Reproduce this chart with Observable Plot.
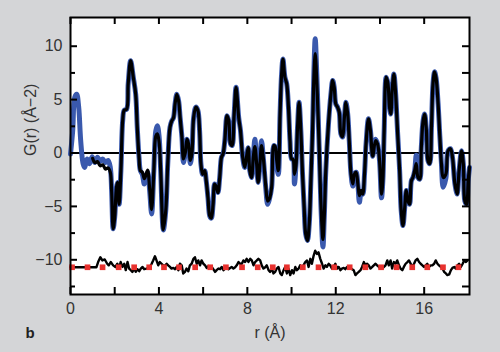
<!DOCTYPE html>
<html><head><meta charset="utf-8">
<script src="https://cdn.jsdelivr.net/npm/d3@7"></script>
<script src="https://cdn.jsdelivr.net/npm/@observablehq/plot@0.6"></script>
<style>html,body{margin:0;padding:0;background:#d4d5d7}</style>
</head><body><div id="chart"></div>
<script>
// Observed G(r) (blue)
const obsR = [0.00,0.10,0.19,0.28,0.37,0.46,0.57,0.64,0.75,0.86,0.98,1.10,1.22,1.34,1.46,1.58,1.70,1.80,1.86,1.93,2.00,2.08,2.13,2.20,2.28,2.36,2.43,2.54,2.61,2.72,2.84,2.95,3.02,3.10,3.16,3.25,3.34,3.42,3.49,3.58,3.67,3.77,3.86,3.93,4.01,4.08,4.20,4.31,4.40,4.50,4.58,4.66,4.73,4.81,4.89,4.96,5.04,5.11,5.19,5.27,5.34,5.42,5.49,5.57,5.67,5.76,5.84,5.90,5.98,6.07,6.14,6.22,6.30,6.37,6.45,6.52,6.60,6.67,6.75,6.83,6.90,6.98,7.08,7.16,7.24,7.31,7.40,7.49,7.61,7.69,7.79,7.88,7.96,8.04,8.11,8.19,8.27,8.34,8.42,8.49,8.57,8.64,8.72,8.83,8.92,9.00,9.10,9.20,9.26,9.33,9.40,9.48,9.55,9.61,9.70,9.78,9.86,9.93,10.00,10.07,10.13,10.20,10.27,10.34,10.42,10.49,10.57,10.64,10.72,10.80,10.87,10.95,11.01,11.07,11.14,11.25,11.33,11.42,11.48,11.55,11.67,11.78,11.86,11.93,12.00,12.08,12.16,12.23,12.31,12.39,12.46,12.54,12.61,12.69,12.77,12.84,12.92,13.00,13.07,13.15,13.22,13.30,13.37,13.48,13.57,13.67,13.80,13.89,13.98,14.07,14.13,14.19,14.28,14.36,14.43,14.49,14.55,14.63,14.70,14.80,14.89,14.96,15.04,15.12,15.19,15.27,15.34,15.42,15.49,15.57,15.64,15.72,15.80,15.87,15.95,16.02,16.10,16.17,16.25,16.33,16.40,16.47,16.54,16.63,16.71,16.78,16.86,16.98,17.08,17.19,17.28,17.39,17.49,17.58,17.69,17.77,17.84,17.92,17.99,18.05];
const obsG = [-0.1,2.1,5.2,5.5,4.3,1.2,-1.0,-1.35,-0.55,-1.0,-0.35,-0.9,-0.4,-0.8,-0.55,-0.9,-0.7,-1.35,-3.5,-7.1,-6.0,-3.2,-2.75,-4.8,-1.65,3.0,4.0,4.1,6.5,8.65,7.1,5.5,2.4,-0.4,-1.65,-2.0,-2.9,-2.3,-1.8,-3.5,-5.7,-1.65,2.1,2.56,1.5,-1.65,-7.2,-5.4,-1.0,2.4,3.0,3.3,4.6,5.5,4.9,3.3,1.5,-0.9,0.0,1.3,0.85,-1.0,-0.1,3.3,4.3,4.0,2.1,-1.0,-2.0,-1.65,-2.6,-4.2,-5.9,-6.1,-4.8,-2.9,-3.2,-3.7,-2.3,-0.4,-0.1,1.15,3.5,3.0,0.85,0.7,3.5,6.15,3.3,2.1,-0.4,-1.35,-0.4,0.5,-1.65,-2.3,-0.4,1.3,-1.0,-2.75,-1.0,1.15,-0.4,-3.2,-4.8,-4.3,-3.2,0.7,0.6,-1.2,-2.0,3.65,7.4,8.8,7.1,6.5,4.3,1.15,-0.55,-0.6,-2.9,-1.2,2.4,4.75,2.1,-1.65,-5.1,-7.6,-8.2,-6.65,-2.9,2.1,7.5,10.7,7.5,0.5,-5.0,-8.8,-6.0,-1.65,2.7,5.5,6.8,6.15,4.6,4.3,3.8,1.8,1.5,3.35,4.75,3.65,1.15,-2.0,-3.1,-2.0,-1.8,-2.9,-4.6,-3.7,-3.85,-2.0,0.85,3.2,2.1,-0.3,1.3,0.85,-0.7,-4.2,-2.6,2.1,7.1,6.5,4.3,3.65,5.85,7.4,5.85,1.8,-1.65,-5.4,-6.8,-5.1,-3.5,-4.5,-4.8,-2.6,-2.3,-1.65,-0.2,-2.3,-2.45,0.5,3.0,3.65,2.1,-0.7,-1.0,2.5,6.5,7.6,7.0,4.6,1.5,-1.0,-3.2,-2.4,0.2,0.4,-0.4,-2.9,-3.85,-1.65,0.2,-1.0,-4.5,-4.8,-2.6,-1.35];

// Calculated fit (black)
const calcR = [1.00,1.10,1.22,1.34,1.46,1.58,1.70,1.80,1.86,1.93,2.00,2.08,2.13,2.20,2.28,2.36,2.43,2.54,2.61,2.72,2.84,2.95,3.02,3.10,3.16,3.25,3.34,3.42,3.49,3.58,3.67,3.77,3.86,3.93,4.01,4.08,4.20,4.31,4.40,4.50,4.58,4.66,4.73,4.81,4.89,4.96,5.04,5.11,5.19,5.27,5.34,5.42,5.49,5.57,5.67,5.76,5.84,5.90,5.98,6.07,6.14,6.22,6.30,6.37,6.45,6.52,6.60,6.67,6.75,6.83,6.90,6.98,7.08,7.16,7.24,7.31,7.40,7.49,7.61,7.69,7.79,7.88,7.96,8.04,8.11,8.19,8.27,8.34,8.42,8.49,8.57,8.64,8.72,8.83,8.92,9.00,9.10,9.20,9.26,9.33,9.40,9.48,9.55,9.61,9.70,9.78,9.86,9.93,10.00,10.07,10.13,10.20,10.27,10.34,10.42,10.49,10.57,10.64,10.72,10.80,10.87,10.95,11.01,11.07,11.14,11.25,11.33,11.42,11.48,11.55,11.67,11.78,11.86,11.93,12.00,12.08,12.16,12.23,12.31,12.39,12.46,12.54,12.61,12.69,12.77,12.84,12.92,13.00,13.07,13.15,13.22,13.30,13.37,13.48,13.57,13.67,13.80,13.89,13.98,14.07,14.13,14.19,14.28,14.36,14.43,14.49,14.55,14.63,14.70,14.80,14.89,14.96,15.04,15.12,15.19,15.27,15.34,15.42,15.49,15.57,15.64,15.72,15.80,15.87,15.95,16.02,16.10,16.17,16.25,16.33,16.40,16.47,16.54,16.63,16.71,16.78,16.86,16.98,17.08,17.19,17.28,17.39,17.49,17.58,17.69,17.77,17.84,17.92,17.99,18.05];
const calcG = [-0.5,-0.9,-0.8,-1.2,-1.1,-1.5,-1.4,-1.8,-3.5,-7.1,-6.0,-3.2,-2.75,-4.8,-1.65,3.0,4.0,4.1,6.5,8.65,7.1,5.5,2.4,-0.4,-1.65,-1.8,-2.4,-2.0,-1.6,-3.3,-5.3,-1.65,1.6,1.8,1.0,-1.65,-7.2,-5.4,-1.0,2.4,3.0,3.3,4.6,5.5,4.9,3.3,1.5,-0.55,0.0,1.3,0.85,-0.7,-0.1,3.3,4.3,4.0,2.1,-1.0,-2.0,-1.65,-2.6,-4.2,-5.9,-6.1,-4.8,-2.9,-3.2,-3.7,-2.3,-0.4,-0.1,1.15,3.5,3.0,0.85,0.7,3.5,6.15,3.3,2.1,-0.4,-1.35,-0.4,0.5,-1.65,-2.3,-0.4,0.6,-1.0,-2.75,-1.0,0.7,-0.4,-3.0,-4.5,-4.3,-3.2,0.7,0.6,-0.7,-1.65,3.65,7.4,8.8,7.1,6.5,4.3,1.15,-0.55,-0.6,-2.0,-1.2,2.4,4.75,2.1,-1.65,-5.1,-7.6,-8.2,-6.65,-2.9,2.1,7.1,9.3,6.8,0.5,-4.8,-8.1,-6.0,-1.65,2.7,5.5,6.8,6.15,4.6,4.3,3.8,1.8,1.5,3.35,4.75,3.65,1.15,-2.0,-2.9,-2.0,-1.8,-2.9,-4.0,-3.5,-3.85,-2.0,0.85,3.2,2.1,-0.3,1.15,0.85,-0.7,-3.85,-2.6,2.1,7.1,6.5,4.3,3.65,5.85,7.4,5.85,1.8,-1.65,-5.4,-6.8,-5.1,-3.5,-4.5,-4.8,-2.6,-2.3,-1.65,-1.0,-2.3,-2.45,0.5,3.0,3.65,2.1,-0.7,-1.0,2.5,6.5,7.6,7.0,4.6,1.5,-1.0,-2.3,-2.0,0.2,0.4,-0.4,-2.9,-3.85,-1.65,0.2,-1.0,-4.5,-4.8,-2.6,-1.35];

// Difference curve (plotted offset below)
const diffR = [0.00,1.17,1.25,1.35,1.44,1.55,1.66,1.73,1.82,1.93,2.03,2.12,2.20,2.27,2.35,2.43,2.50,2.58,2.65,2.73,2.80,2.88,2.95,3.03,3.11,3.18,3.26,3.33,3.44,3.51,3.59,3.67,3.74,3.82,3.89,3.97,4.04,4.12,4.19,4.27,4.35,4.42,4.50,4.57,4.65,4.72,4.80,4.88,4.95,5.03,5.10,5.18,5.25,5.33,5.40,5.48,5.56,5.63,5.71,5.78,5.86,5.93,6.01,6.09,6.16,6.24,6.31,6.39,6.46,6.54,6.61,6.69,6.77,6.84,6.92,6.99,7.07,7.14,7.22,7.29,7.37,7.45,7.52,7.60,7.67,7.75,7.82,7.90,7.97,8.05,8.13,8.20,8.28,8.35,8.43,8.50,8.58,8.65,8.73,8.81,8.88,8.96,9.03,9.11,9.18,9.26,9.33,9.41,9.49,9.56,9.64,9.71,9.79,9.86,9.94,10.02,10.09,10.17,10.24,10.32,10.39,10.47,10.54,10.62,10.70,10.77,10.85,10.92,11.00,11.07,11.15,11.22,11.30,11.38,11.45,11.53,11.60,11.68,11.75,11.83,11.90,11.98,12.06,12.13,12.21,12.28,12.36,12.43,12.51,12.58,12.66,12.74,12.81,12.89,12.96,13.04,13.12,13.19,13.27,13.34,13.42,13.49,13.57,13.65,13.72,13.80,13.87,13.95,14.02,14.10,14.18,14.25,14.33,14.40,14.48,14.55,14.63,14.71,14.78,14.86,14.93,15.01,15.08,15.16,15.24,15.31,15.39,15.46,15.54,15.61,15.69,15.77,15.84,15.92,15.99,16.07,16.14,16.22,16.30,16.37,16.45,16.52,16.60,16.67,16.75,16.83,16.90,16.98,17.05,17.13,17.21,17.28,17.36,17.43,17.51,17.58,17.66,17.74,17.81,17.89,17.96];
const diffG = [0,0,0.49,0.94,0.64,0.73,0.33,0.18,0.49,0.18,0.03,0.33,-0.12,0.49,0.03,0.33,-0.27,0.49,-0.12,-0.27,-0.43,-0.12,-0.43,-0.18,-0.37,-0.12,0.03,-0.18,-0.12,-0.06,0,0.33,0.64,1.03,0.64,0.18,0.49,0.33,0.18,0.12,0.33,0.18,0.03,-0.12,-0.06,-0.18,0.03,-0.27,0.33,0.18,-0.58,-0.43,-0.12,-0.37,0.18,0.33,0.79,0.94,0.33,0.64,0.18,0.64,0.33,0.18,-0.06,0.12,-0.12,0.03,-0.18,-0.43,-0.27,-0.12,-0.18,0.03,-0.27,-0.12,0.03,-0.18,-0.06,0.03,-0.12,0,0.18,0.49,0.33,0.33,0.64,0.49,0.79,0.49,0.79,0.64,0.18,0.49,0.64,0.79,0.64,0.18,-0.12,0,0.18,-0.27,-0.43,-0.12,-0.58,-0.43,-0.12,0.03,-0.58,-0.73,-0.27,0.03,-0.58,-0.12,-0.73,-0.27,-0.58,0.03,-0.27,-0.12,0.18,-0.12,0.18,0.49,0.64,0.03,0.79,0.33,1.1,1.55,1.25,1.4,0.79,0.33,-0.12,0.18,0.03,0.33,0.18,-0.12,0.03,0.33,-0.12,0.03,-0.27,-0.12,-0.06,-0.18,0.03,-0.12,-0.06,-0.18,-0.27,-0.73,-0.58,-0.43,-0.27,0.03,0.49,0.18,0.33,0.18,-0.12,0.03,0.18,0.33,0.18,0.03,-0.12,-0.12,0.03,0.18,0.64,0.18,0.64,-0.12,0.49,0.33,0.64,0.18,-0.12,-0.27,0.03,0.33,0.49,0.64,0.33,0.03,0.33,0.64,0.79,0.49,0.33,0.18,0.03,0.18,0.33,0.03,0.18,0.18,0.33,0.64,0.33,0.18,0.03,-0.12,-0.43,-0.58,-0.73,-0.67,-0.27,-0.06,0.03,-0.12,0.18,0.33,0.03,0.33,0.64,0.49,0.64];

// Red baseline markers
const markR = [0.07,0.77,1.45,2.18,2.88,3.56,4.23,4.91,5.64,6.32,7.03,7.76,8.47,9.15,9.79,10.51,11.22,11.93,12.63,13.34,14.05,14.75,15.46,16.14,16.85,17.55];
const DIFF_OFFSET = -10.7;

const xTicks = [0,4,8,12,16];
const xMinor = [2,6,10,14];
const yTicks = [-10,-5,0,5,10];
const yMinor = [-12.5,-7.5,-2.5,2.5,7.5];

const obs = obsR.map((r,i)=>({r, g: obsG[i]}));
const calc = calcR.map((r,i)=>({r, g: calcG[i]}));
const diff = diffR.map((r,i)=>({r, g: diffG[i]}));

const W = 500, H = 352, mL = 70, mR = 31, mT = 17, mB = 58;
const pw = W - mL - mR, ph = H - mT - mB;
const xAll = xTicks.concat(xMinor);

const chart = Plot.plot({
  width: W, height: H,
  marginLeft: mL, marginRight: mR, marginTop: mT, marginBottom: mB,
  style: {background: "#d4d5d7", fontFamily: "'Liberation Sans', Arial, sans-serif", fontSize: "16px", color: "#333"},
  x: {domain: [0, 18.05], axis: null},
  y: {domain: [-13.25, 12.69], axis: null},
  marks: [
    Plot.frame({fill: "white", stroke: null}),
    Plot.ruleY([0], {stroke: "black", strokeWidth: 2}),
    Plot.line(obs, {x: "r", y: "g", stroke: "#3a59ad", strokeWidth: 5, curve: "catmull-rom"}),
    Plot.line(calc, {x: "r", y: "g", stroke: "black", strokeWidth: 3.2, curve: "catmull-rom"}),
    Plot.line(diff, {x: "r", y: d => d.g + DIFF_OFFSET, stroke: "black", strokeWidth: 2.4, curve: "linear"}),
    Plot.dot(markR, {x: d => d, y: () => DIFF_OFFSET, symbol: "square", r: 3.2, fill: "#e8312e", stroke: null}),
    Plot.tickY(yTicks, {y: d => d, insetRight: pw - 7, stroke: "black", strokeWidth: 2}),
    Plot.tickY(yMinor, {y: d => d, insetRight: pw - 5, stroke: "black", strokeWidth: 2}),
    Plot.tickY(yTicks.concat(yMinor), {y: d => d, insetLeft: pw - 7, stroke: "black", strokeWidth: 2}),
    Plot.tickX(xAll, {x: d => d, insetTop: ph - 7, stroke: "black", strokeWidth: 2}),
    Plot.tickX(xAll, {x: d => d, insetBottom: ph - 7, stroke: "black", strokeWidth: 2}),
    Plot.frame({stroke: "black", strokeWidth: 2}),
    Plot.axisX(xTicks, {anchor: "bottom", tickSize: 0, tickPadding: 8, label: null, fill: "#333", fontSize: 16}),
    Plot.axisY(yTicks, {anchor: "left", tickSize: 0, tickPadding: 8, label: null, fill: "#333", fontSize: 16, tickFormat: d => d < 0 ? "\u2212" + Math.abs(d) : String(d)}),
    Plot.text(["G(r) (Å\u22122)"], {text: d => d, frameAnchor: "left", dx: -40, rotate: -90, fontSize: 16, fill: "#333"}),
    Plot.text(["r (Å)"], {text: d => d, frameAnchor: "bottom", dy: 43, fontSize: 16, fill: "#333"}),
    Plot.text(["b"], {text: d => d, frameAnchor: "bottom-left", dx: -45, dy: 43, fontSize: 15, fontWeight: "bold", fill: "#222"})
  ]
});
document.getElementById("chart").appendChild(chart);
</script>
</body></html>
